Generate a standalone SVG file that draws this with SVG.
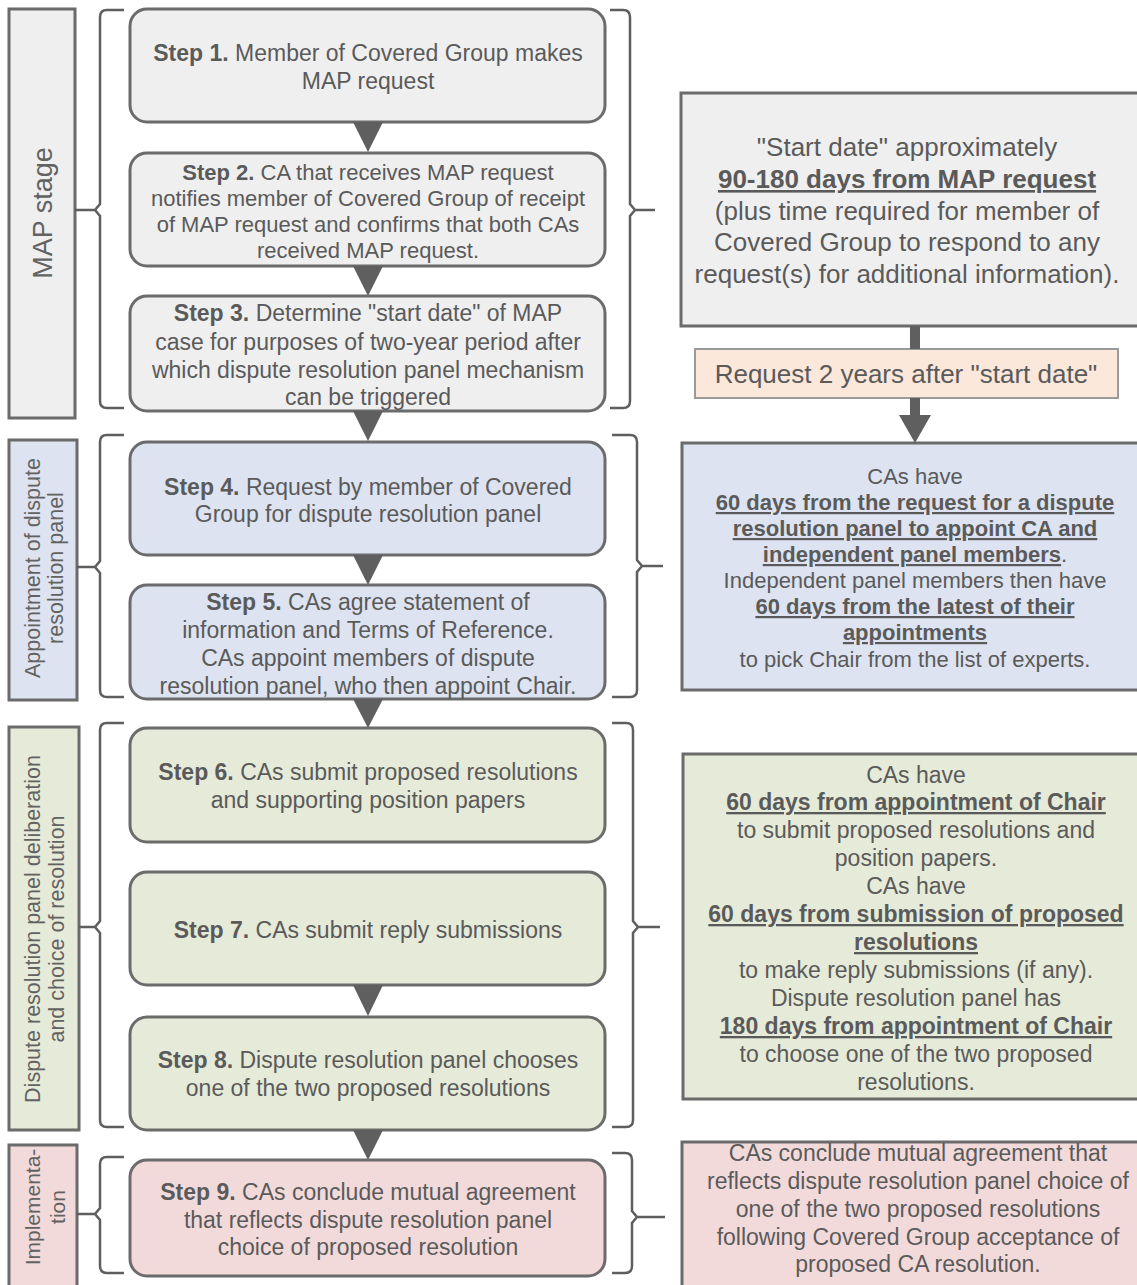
<svg xmlns="http://www.w3.org/2000/svg" width="1137" height="1285" viewBox="0 0 1137 1285">
<style>
text{font-family:"Liberation Sans",Arial,sans-serif;fill:#5a5a5a}
.st{font-size:23px;text-anchor:middle}
.st2{font-size:22px;text-anchor:middle}
.b{font-weight:bold}
.u{font-weight:bold;text-decoration:underline}
.lab{font-size:21.5px;text-anchor:middle;fill:#626262}
.box{stroke:#6b6b6b;stroke-width:3}
.step{stroke:#6b6b6b;stroke-width:3}
.gray{fill:#efefef}
.blue{fill:#dde3f0}
.green{fill:#e6ead8}
.pink{fill:#f2dada}
.brk{fill:none;stroke:#5e5e5e;stroke-width:2.5}
.tri{fill:#5f5f5f}
.rt{text-anchor:middle}
</style>

<!-- stage labels -->
<g id="stage-map">
<rect class="box gray" x="9" y="9" width="66" height="409"/>
<text class="lab" style="font-size:27px" transform="translate(52,213) rotate(-90)">MAP stage</text>
</g>
<g id="stage-appointment">
<rect class="box blue" x="9" y="440" width="68" height="260"/>
<text class="lab" transform="translate(40,568) rotate(-90)">Appointment of dispute</text>
<text class="lab" transform="translate(63,568) rotate(-90)">resolution panel</text>
</g>
<g id="stage-dispute">
<rect class="box green" x="9" y="727" width="70" height="403"/>
<text class="lab" transform="translate(40,929) rotate(-90)">Dispute resolution panel deliberation</text>
<text class="lab" transform="translate(64,929) rotate(-90)">and choice of resolution</text>
</g>
<g id="stage-implementation">
<rect class="box pink" x="9" y="1145" width="68" height="150"/>
<text class="lab" style="font-size:21px" transform="translate(40,1207) rotate(-90)">Implementa-</text>
<text class="lab" style="font-size:21px" transform="translate(65,1207) rotate(-90)">tion</text>
</g>

<!-- steps -->
<g id="step1">
<rect class="step gray" x="130" y="9" width="475" height="113" rx="17"/>
<text class="st" x="368" y="61"><tspan class="b">Step 1.</tspan> Member of Covered Group makes</text>
<text class="st" x="368" y="89">MAP request</text>
</g>
<g id="step2">
<rect class="step gray" x="130" y="153" width="475" height="113" rx="17"/>
<text class="st2" x="368" y="180"><tspan class="b">Step 2.</tspan> CA that receives MAP request</text>
<text class="st2" x="368" y="206">notifies member of Covered Group of receipt</text>
<text class="st2" x="368" y="232">of MAP request and confirms that both CAs</text>
<text class="st2" x="368" y="258">received MAP request.</text>
</g>
<g id="step3">
<rect class="step gray" x="130" y="296" width="475" height="115" rx="17"/>
<text class="st" x="368" y="321"><tspan class="b">Step 3.</tspan> Determine "start date" of MAP</text>
<text class="st" x="368" y="350">case for purposes of two-year period after</text>
<text class="st" x="368" y="378">which dispute resolution panel mechanism</text>
<text class="st" x="368" y="405">can be triggered</text>
</g>
<g id="step4">
<rect class="step blue" x="130" y="442" width="475" height="113" rx="17"/>
<text class="st" x="368" y="495"><tspan class="b">Step 4.</tspan> Request by member of Covered</text>
<text class="st" x="368" y="522">Group for dispute resolution panel</text>
</g>
<g id="step5">
<rect class="step blue" x="130" y="585" width="475" height="114" rx="17"/>
<text class="st" x="368" y="610"><tspan class="b">Step 5.</tspan> CAs agree statement of</text>
<text class="st" x="368" y="638">information and Terms of Reference.</text>
<text class="st" x="368" y="666">CAs appoint members of dispute</text>
<text class="st" x="368" y="694">resolution panel, who then appoint Chair.</text>
</g>
<g id="step6">
<rect class="step green" x="130" y="728" width="475" height="114" rx="17"/>
<text class="st" x="368" y="780"><tspan class="b">Step 6.</tspan> CAs submit proposed resolutions</text>
<text class="st" x="368" y="808">and supporting position papers</text>
</g>
<g id="step7">
<rect class="step green" x="130" y="872" width="475" height="113" rx="17"/>
<text class="st" x="368" y="938"><tspan class="b">Step 7.</tspan> CAs submit reply submissions</text>
</g>
<g id="step8">
<rect class="step green" x="130" y="1017" width="475" height="113" rx="17"/>
<text class="st" x="368" y="1068"><tspan class="b">Step 8.</tspan> Dispute resolution panel chooses</text>
<text class="st" x="368" y="1096">one of the two proposed resolutions</text>
</g>
<g id="step9">
<rect class="step pink" x="130" y="1160" width="475" height="116" rx="17"/>
<text class="st" x="368" y="1200"><tspan class="b">Step 9.</tspan> CAs conclude mutual agreement</text>
<text class="st" x="368" y="1228">that reflects dispute resolution panel</text>
<text class="st" x="368" y="1255">choice of proposed resolution</text>
</g>

<!-- right side boxes -->
<g id="timing-map">
<rect class="box gray" x="681" y="93" width="470" height="233"/>
<g class="rt" style="font-size:26px">
<text x="907" y="156">"Start date" approximately</text>
<text x="907" y="188" class="u">90-180 days from MAP request</text>
<text x="907" y="220">(plus time required for member of</text>
<text x="907" y="251">Covered Group to respond to any</text>
<text x="907" y="283">request(s) for additional information).</text>
</g>
</g>
<g id="request-box">
<rect x="695" y="349" width="423" height="49" fill="#fbe8da" stroke="#9a9a9a" stroke-width="2"/>
<text class="rt" x="906" y="383" style="font-size:26px">Request 2 years after "start date"</text>
</g>
<g id="timing-appointment">
<rect class="box blue" x="682" y="443" width="470" height="247"/>
<g class="rt" style="font-size:22px">
<text x="915" y="484">CAs have</text>
<text x="915" y="510" class="u">60 days from the request for a dispute</text>
<text x="915" y="536" class="u">resolution panel to appoint CA and</text>
<text x="915" y="562"><tspan class="u">independent panel members</tspan>.</text>
<text x="915" y="588">Independent panel members then have</text>
<text x="915" y="614" class="u">60 days from the latest of their</text>
<text x="915" y="640" class="u">appointments</text>
<text x="915" y="667">to pick Chair from the list of experts.</text>
</g>
</g>
<g id="timing-dispute">
<rect class="box green" x="683" y="754" width="470" height="345"/>
<g class="rt" style="font-size:23px">
<text x="916" y="783">CAs have</text>
<text x="916" y="810" class="u">60 days from appointment of Chair</text>
<text x="916" y="838">to submit proposed resolutions and</text>
<text x="916" y="866">position papers.</text>
<text x="916" y="894">CAs have</text>
<text x="916" y="922" class="u">60 days from submission of proposed</text>
<text x="916" y="950" class="u">resolutions</text>
<text x="916" y="978">to make reply submissions (if any).</text>
<text x="916" y="1006">Dispute resolution panel has</text>
<text x="916" y="1034" class="u">180 days from appointment of Chair</text>
<text x="916" y="1062">to choose one of the two proposed</text>
<text x="916" y="1090">resolutions.</text>
</g>
</g>
<g id="timing-implementation">
<rect class="box pink" x="682" y="1142" width="470" height="160"/>
<g class="rt" style="font-size:23px">
<text x="918" y="1161">CAs conclude mutual agreement that</text>
<text x="918" y="1189">reflects dispute resolution panel choice of</text>
<text x="918" y="1217">one of the two proposed resolutions</text>
<text x="918" y="1245">following Covered Group acceptance of</text>
<text x="918" y="1272">proposed CA resolution.</text>
</g>
</g>

<!-- connectors: brackets and arrows -->
<g id="connectors">
<!-- left brackets -->
<path class="brk" d="M124,10 L107,10 Q100,10 100,17 L100,204 L95,210 L100,216 L100,401 Q100,408 107,408 L124,408 M75,210 L95,210"/>
<path class="brk" d="M124,435 L107,435 Q100,435 100,442 L100,561 L95,567 L100,573 L100,690 Q100,697 107,697 L124,697 M77,567 L95,567"/>
<path class="brk" d="M124,723 L107,723 Q100,723 100,730 L100,921 L95,927 L100,933 L100,1120 Q100,1127 107,1127 L124,1127 M79,927 L95,927"/>
<path class="brk" d="M124,1157 L107,1157 Q100,1157 100,1164 L100,1208 L95,1214 L100,1220 L100,1266 Q100,1273 107,1273 L124,1273 M77,1214 L95,1214"/>
<!-- right brackets -->
<path class="brk" d="M610,10 L623,10 Q630,10 630,17 L630,204 L635,210 L630,216 L630,401 Q630,408 623,408 L610,408 M635,210 L655,210"/>
<path class="brk" d="M612,435 L630,435 Q637,435 637,442 L637,560 L642,566 L637,572 L637,690 Q637,697 630,697 L612,697 M642,566 L663,566"/>
<path class="brk" d="M612,723 L626,723 Q633,723 633,730 L633,921 L638,927 L633,933 L633,1120 Q633,1127 626,1127 L612,1127 M638,927 L660,927"/>
<path class="brk" d="M612,1153 L625,1153 Q632,1153 632,1160 L632,1211 L637,1217 L632,1223 L632,1266 Q632,1273 625,1273 L612,1273 M637,1217 L665,1217"/>
<!-- step arrows -->
<polygon class="tri" points="353,122 383,122 368,152"/>
<polygon class="tri" points="353,266 383,266 368,296"/>
<polygon class="tri" points="353,411 383,411 368,441"/>
<polygon class="tri" points="353,555 383,555 368,585"/>
<polygon class="tri" points="353,699 383,699 368,728"/>
<polygon class="tri" points="353,985 383,985 368,1016"/>
<polygon class="tri" points="353,1130 383,1130 368,1160"/>
<!-- right side connectors -->
<rect x="910" y="326" width="10" height="23" fill="#5f5f5f"/>
<rect x="910" y="398" width="10" height="18" fill="#5f5f5f"/>
<polygon class="tri" points="899,415 931,415 915,443"/>
</g>
</svg>
